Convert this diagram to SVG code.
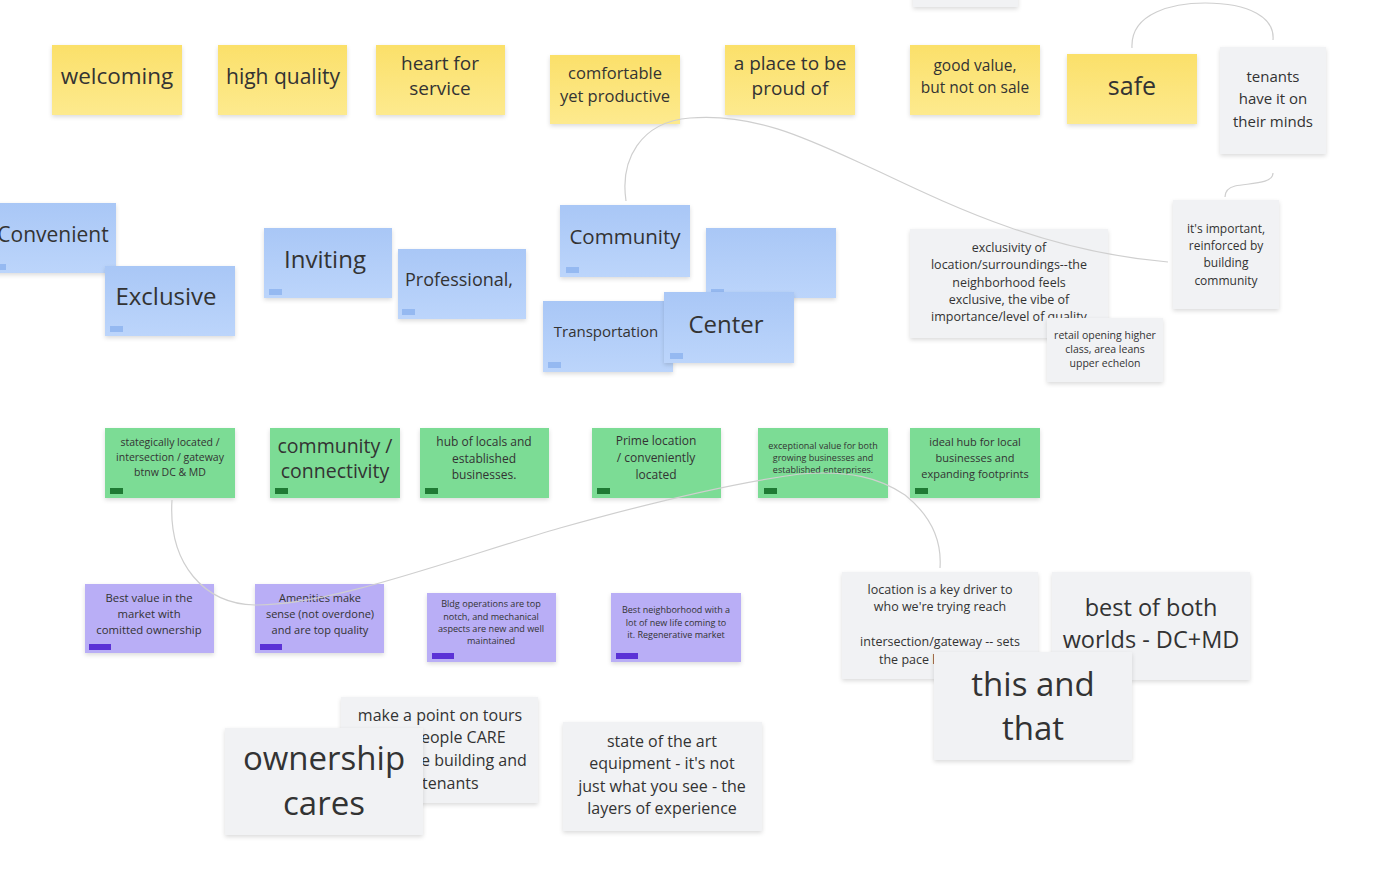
<svg xmlns="http://www.w3.org/2000/svg" width="1386" height="884" viewBox="0 0 1386 884">
<defs>
<linearGradient id="gy" x1="0" y1="0" x2="0" y2="1"><stop offset="0" stop-color="#fbe06a"/><stop offset="1" stop-color="#fdea8e"/></linearGradient>
<linearGradient id="gb" x1="0" y1="0" x2="0" y2="1"><stop offset="0" stop-color="#a9c7f6"/><stop offset="1" stop-color="#bcd5fb"/></linearGradient>
<filter id="sh" x="-10%" y="-10%" width="120%" height="130%"><feDropShadow dx="0" dy="2" stdDeviation="2" flood-color="#000" flood-opacity="0.14"/></filter>
<style>
.y{fill:url(#gy);filter:url(#sh)}
.b{fill:url(#gb);filter:url(#sh)}
.g{fill:#7bdc95;filter:url(#sh)}
.p{fill:#b9aef6;filter:url(#sh)}
.w{fill:#f1f2f4;filter:url(#sh)}
.tb{fill:#95b9f1}
.tg{fill:#1f7a34}
.tp{fill:#5b32d6}
text{font-family:"Open Sans","Noto Sans","Liberation Sans",sans-serif;fill:#333333;text-anchor:middle}
.c{fill:none;stroke:#cfcfcf;stroke-width:1.2}
</style>
</defs>
<rect width="1386" height="884" fill="#ffffff"/>

<g id="n-top"><rect class="w" x="913" y="-20" width="105" height="27"/></g>

<g id="n-welcoming"><rect class="y" x="52" y="45" width="130" height="70"/><text x="117" y="84" font-size="22.5">welcoming</text></g>
<g id="n-highquality"><rect class="y" x="218" y="45" width="129" height="70"/><text x="283" y="84" font-size="21">high quality</text></g>
<g id="n-heart"><rect class="y" x="376" y="45" width="129" height="70"/><text x="440" y="70" font-size="19">heart for</text><text x="440" y="95" font-size="19">service</text></g>
<g id="n-comfortable"><rect class="y" x="550" y="55" width="130" height="69"/><text x="615" y="79" font-size="16.5">comfortable</text><text x="615" y="102" font-size="16.5">yet productive</text></g>
<g id="n-proud"><rect class="y" x="725" y="45" width="130" height="70"/><text x="790" y="70" font-size="19">a place to be</text><text x="790" y="95" font-size="19">proud of</text></g>
<g id="n-goodvalue"><rect class="y" x="910" y="45" width="130" height="70"/><text x="975" y="71" font-size="15.5">good value,</text><text x="975" y="93" font-size="15.5">but not on sale</text></g>
<g id="n-safe"><rect class="y" x="1067" y="54" width="130" height="70"/><text x="1132" y="95" font-size="25">safe</text></g>
<g id="n-tenants"><rect class="w" x="1220" y="47" width="106" height="107"/><text x="1273" y="82" font-size="15">tenants</text><text x="1273" y="104" font-size="15">have it on</text><text x="1273" y="127" font-size="15">their minds</text></g>

<g id="n-convenient"><rect class="b" x="-10" y="203" width="126" height="70"/><rect class="tb" x="-2" y="264" width="8" height="6"/><text x="53" y="242" font-size="21">Convenient</text></g>
<g id="n-exclusive"><rect class="b" x="105" y="266" width="130" height="70"/><rect class="tb" x="110" y="326" width="13" height="6"/><text x="166" y="305" font-size="24">Exclusive</text></g>
<g id="n-inviting"><rect class="b" x="264" y="228" width="128" height="70"/><rect class="tb" x="269" y="289" width="13" height="6"/><text x="325" y="268" font-size="24">Inviting</text></g>
<g id="n-professional"><rect class="b" x="398" y="249" width="128" height="70"/><rect class="tb" x="402" y="309" width="13" height="6"/><text x="459" y="286" font-size="18">Professional,</text></g>
<g id="n-community"><rect class="b" x="560" y="205" width="130" height="72"/><rect class="tb" x="566" y="267" width="13" height="6"/><text x="625" y="244" font-size="20.5">Community</text></g>
<g id="n-blank"><rect class="b" x="706" y="228" width="130" height="70"/><rect class="tb" x="711" y="289" width="13" height="6"/></g>
<g id="n-transportation"><rect class="b" x="543" y="301" width="130" height="71"/><rect class="tb" x="548" y="362" width="13" height="6"/><text x="606" y="337" font-size="15">Transportation</text></g>
<g id="n-center"><rect class="b" x="664" y="292" width="130" height="71"/><rect class="tb" x="670" y="353" width="13" height="6"/><text x="726" y="333" font-size="24">Center</text></g>

<g id="n-exclusivity"><rect class="w" x="910" y="229" width="198" height="109"/><g font-size="12.5"><text x="1009" y="252">exclusivity of</text><text x="1009" y="269">location/surroundings--the</text><text x="1009" y="287">neighborhood feels</text><text x="1009" y="304">exclusive, the vibe of</text><text x="1009" y="321">importance/level of quality</text></g></g>
<g id="n-retail"><rect class="w" x="1047" y="318" width="116" height="64"/><g font-size="10.5"><text x="1105" y="339">retail opening higher</text><text x="1105" y="353">class, area leans</text><text x="1105" y="367">upper echelon</text></g></g>
<g id="n-important"><rect class="w" x="1173" y="200" width="106" height="109"/><g font-size="12"><text x="1226" y="233">it's important,</text><text x="1226" y="250">reinforced by</text><text x="1226" y="267">building</text><text x="1226" y="285">community</text></g></g>

<g id="n-stategically"><rect class="g" x="105" y="428" width="130" height="70"/><rect class="tg" x="110" y="488" width="13" height="6"/><g font-size="10.5"><text x="170" y="446">stategically located /</text><text x="170" y="461">intersection / gateway</text><text x="170" y="476">btnw DC &amp; MD</text></g></g>
<g id="n-connectivity"><rect class="g" x="270" y="428" width="130" height="70"/><rect class="tg" x="275" y="488" width="13" height="6"/><text x="335" y="453" font-size="19.5">community /</text><text x="335" y="478" font-size="19.5">connectivity</text></g>
<g id="n-hub"><rect class="g" x="420" y="428" width="129" height="70"/><rect class="tg" x="425" y="488" width="13" height="6"/><g font-size="12"><text x="484" y="446">hub of locals and</text><text x="484" y="463">established</text><text x="484" y="479">businesses.</text></g></g>
<g id="n-prime"><rect class="g" x="592" y="428" width="129" height="70"/><rect class="tg" x="597" y="488" width="13" height="6"/><g font-size="12"><text x="656" y="445">Prime location</text><text x="656" y="462">/ conveniently</text><text x="656" y="479">located</text></g></g>
<g id="n-exceptional"><rect class="g" x="758" y="428" width="130" height="70"/><rect class="tg" x="764" y="488" width="13" height="6"/><g font-size="9"><text x="823" y="449">exceptional value for both</text><text x="823" y="461">growing businesses and</text><text x="823" y="473">established enterprises.</text></g></g>
<g id="n-ideal"><rect class="g" x="910" y="428" width="130" height="70"/><rect class="tg" x="915" y="488" width="13" height="6"/><g font-size="11"><text x="975" y="446">ideal hub for local</text><text x="975" y="462">businesses and</text><text x="975" y="478">expanding footprints</text></g></g>

<g id="n-bestvalue"><rect class="p" x="85" y="584" width="129" height="69"/><rect class="tp" x="89" y="644" width="22" height="6"/><g font-size="11.3"><text x="149" y="602">Best value in the</text><text x="149" y="618">market with</text><text x="149" y="634">comitted ownership</text></g></g>
<g id="n-amenities"><rect class="p" x="255" y="584" width="129" height="69"/><rect class="tp" x="260" y="644" width="22" height="6"/><g font-size="11"><text x="320" y="602">Amenities make</text><text x="320" y="618">sense (not overdone)</text><text x="320" y="634">and are top quality</text></g></g>
<g id="n-bldg"><rect class="p" x="427" y="593" width="129" height="69"/><rect class="tp" x="432" y="653" width="22" height="6"/><g font-size="9.1"><text x="491" y="607">Bldg operations are top</text><text x="491" y="620">notch, and mechanical</text><text x="491" y="632">aspects are new and well</text><text x="491" y="644">maintained</text></g></g>
<g id="n-neighborhood"><rect class="p" x="611" y="593" width="130" height="69"/><rect class="tp" x="616" y="653" width="22" height="6"/><g font-size="9"><text x="676" y="613">Best neighborhood with a</text><text x="676" y="626">lot of new life coming to</text><text x="676" y="638">it.  Regenerative market</text></g></g>

<g id="n-location"><rect class="w" x="842" y="572" width="196" height="107"/><g font-size="12.5"><text x="940" y="594">location is a key driver to</text><text x="940" y="611">who we're trying reach</text><text x="940" y="646">intersection/gateway -- sets</text><text x="879" y="664" style="text-anchor:start">the pace l</text></g></g>
<g id="n-bestboth"><rect class="w" x="1052" y="572" width="198" height="108"/><text x="1151" y="616" font-size="23.5">best of both</text><text x="1151" y="648" font-size="23.5">worlds - DC+MD</text></g>
<g id="n-thisandthat"><rect class="w" x="934" y="652" width="198" height="108"/><text x="1033" y="696" font-size="33">this and</text><text x="1033" y="740" font-size="33">that</text></g>

<g id="n-makepoint"><rect class="w" x="341" y="697" width="197" height="106"/><g font-size="16"><text x="440" y="721">make a point on tours</text><text x="421" y="743" style="text-anchor:start">eople CARE</text><text x="421" y="766" style="text-anchor:start">e building and</text><text x="422" y="789" style="text-anchor:start">tenants</text></g></g>
<g id="n-ownership"><rect class="w" x="225" y="728" width="198" height="107"/><text x="324" y="770" font-size="33">ownership</text><text x="324" y="815" font-size="33">cares</text></g>
<g id="n-stateart"><rect class="w" x="563" y="722" width="199" height="109"/><g font-size="16"><text x="662" y="747">state of the art</text><text x="662" y="769">equipment - it's not</text><text x="662" y="792">just what you see - the</text><text x="662" y="814">layers of experience</text></g></g>

<g id="connectors">
<path class="c" d="M1132,48 C1130,12 1175,3 1205,3 C1250,3 1275,18 1273,40"/>
<path class="c" d="M1273,173 C1273,184 1250,183 1235,186 C1227,188 1225,192 1225,197"/>
<path class="c" d="M626,201 C620,160 640,122 690,118 C760,112 820,145 880,172 C960,210 1050,252 1168,262"/>
<path class="c" d="M172,500 C168,565 205,604 255,605 C330,606 450,560 560,528 C660,500 740,482 800,474 C850,470 880,478 905,495 C930,515 942,540 940,568"/>
</g>
</svg>
